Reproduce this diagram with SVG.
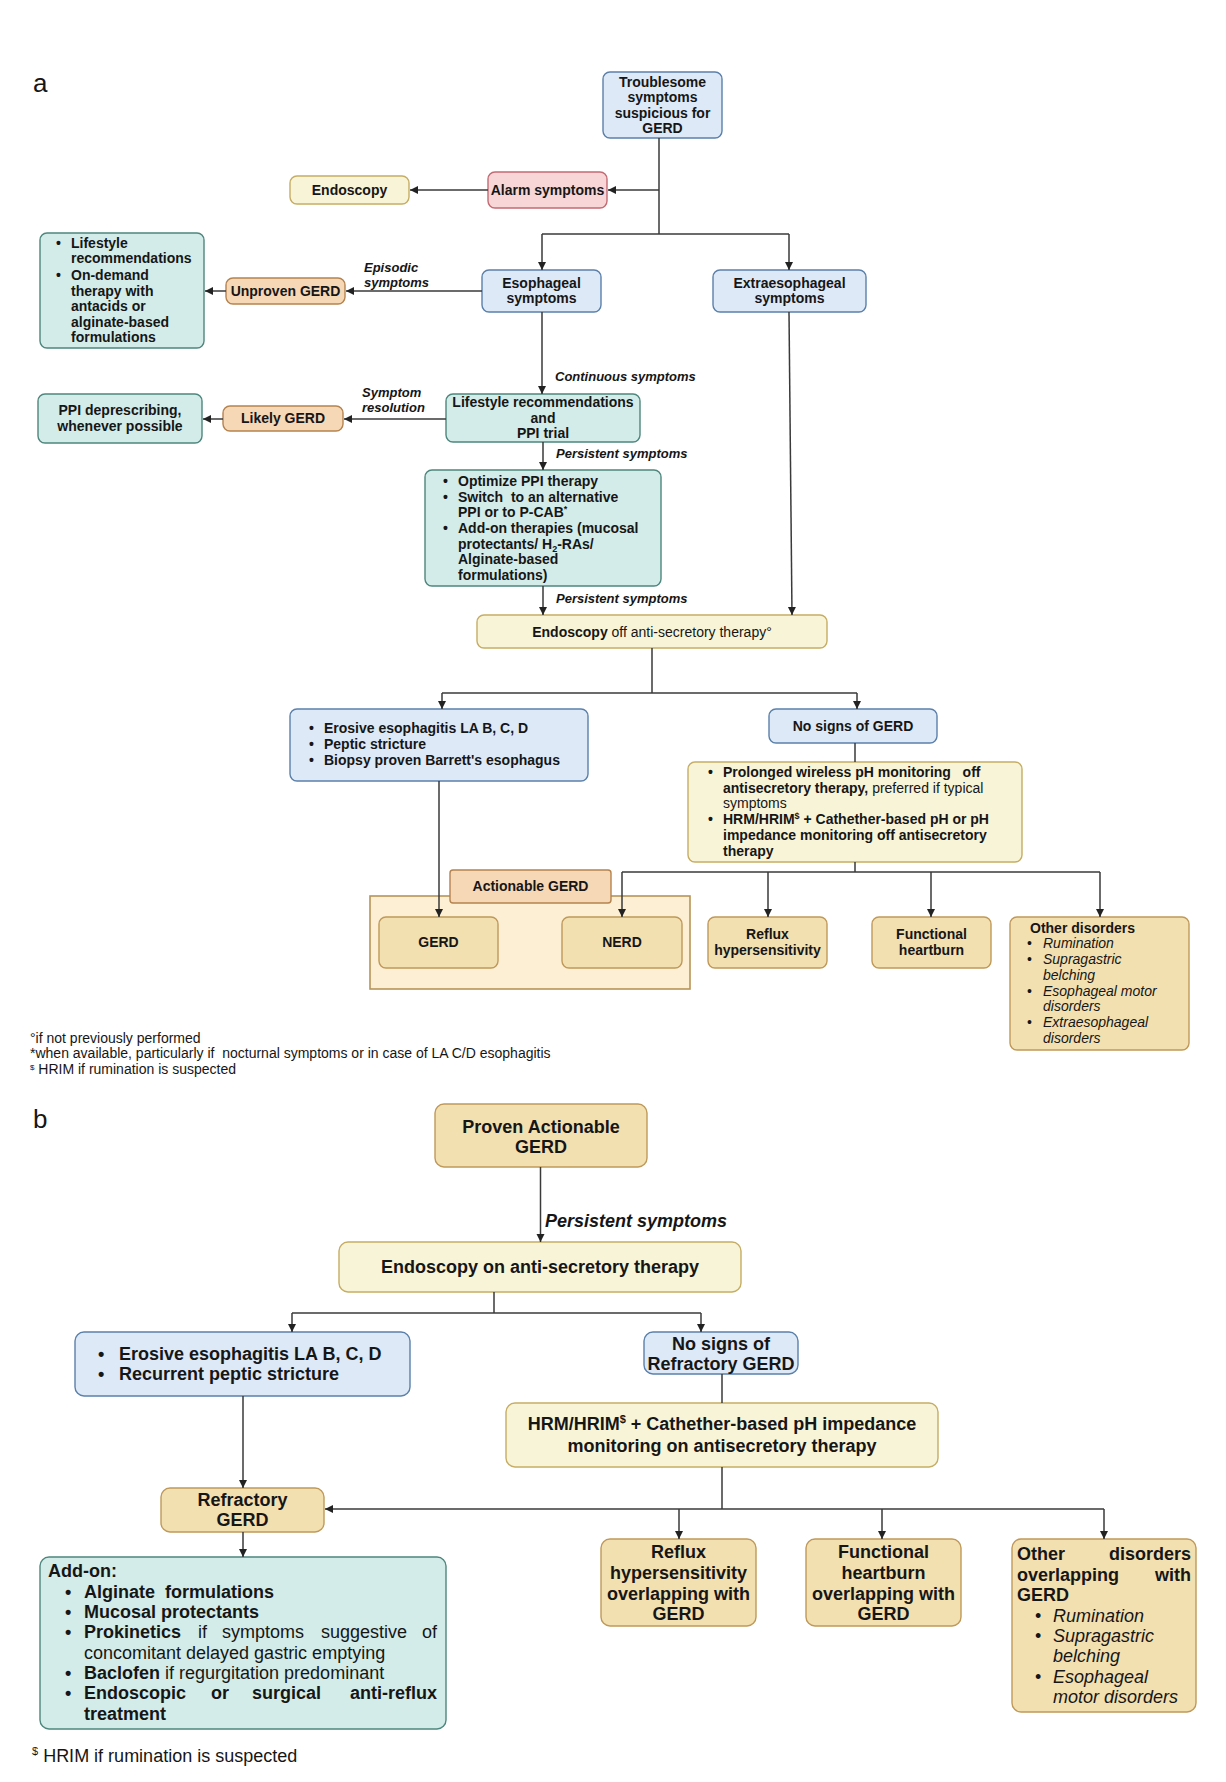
<svg xmlns="http://www.w3.org/2000/svg" width="1226" height="1782" viewBox="0 0 1226 1782">
<defs>
<style>
.bg{fill:#ffffff}
rect{stroke-width:1.4}
.blue{fill:#dde9f7;stroke:#5b80aa}
.teal{fill:#d3ece9;stroke:#4e877d}
.yel{fill:#f8f4d8;stroke:#c6ad63}
.org{fill:#f6d8b7;stroke:#b5834f}
.tan{fill:#f3e0b1;stroke:#bf995a}
.pink{fill:#f8d6d7;stroke:#c46a73}
.cont{fill:#fcefd3;stroke:#b79458;stroke-width:1.6}
text{font-family:"Liberation Sans",Arial,Helvetica,sans-serif;font-size:14px;font-weight:bold;fill:#161616}
.c{text-anchor:middle}
.e{text-anchor:end}
.i{font-style:italic}
.r{font-weight:normal}
.s{font-size:13px}
.L{font-size:18px}
.fn{font-size:14px;font-weight:normal}
.lbl{font-size:26px;font-weight:normal}
.con path{fill:none;stroke:#3a3a3a;stroke-width:1.5}
.con path.a{marker-end:url(#ah)}
</style>
<marker id="ah" markerUnits="userSpaceOnUse" markerWidth="10" markerHeight="10" refX="8" refY="4" orient="auto">
<path d="M0,0 L8,4 L0,8 z" fill="#222"/>
</marker>
</defs>
<rect class="bg" x="0" y="0" width="1226" height="1782"/>

<text class="lbl" x="33" y="92">a</text>
<text class="lbl" x="33" y="1128">b</text>

<g id="troublesome">
<rect class="blue" x="603" y="72" width="119" height="66" rx="7"/>
<text class="c" x="662.5" y="87">Troublesome</text>
<text class="c" x="662.5" y="102">symptoms</text>
<text class="c" x="662.5" y="118">suspicious for</text>
<text class="c" x="662.5" y="133">GERD</text>
</g>
<g id="alarm">
<rect class="pink" x="488" y="172" width="119" height="36" rx="7"/>
<text class="c" x="547.5" y="195">Alarm symptoms</text>
</g>
<g id="endoscopy">
<rect class="yel" x="290" y="176" width="119" height="28" rx="7"/>
<text class="c" x="349.5" y="195">Endoscopy</text>
</g>
<g id="esophageal">
<rect class="blue" x="482" y="270" width="119" height="42" rx="7"/>
<text class="c" x="541.5" y="288">Esophageal</text>
<text class="c" x="541.5" y="303">symptoms</text>
</g>
<g id="extraesophageal">
<rect class="blue" x="713" y="270" width="153" height="42" rx="7"/>
<text class="c" x="789.5" y="288">Extraesophageal</text>
<text class="c" x="789.5" y="303">symptoms</text>
</g>
<g id="lifestyle-ondemand">
<rect class="teal" x="40" y="233" width="164" height="115" rx="7"/>
<text x="56" y="248">•</text>
<text x="71" y="248">Lifestyle</text>
<text x="71" y="263">recommendations</text>
<text x="56" y="280">•</text>
<text x="71" y="280">On-demand</text>
<text x="71" y="296">therapy with</text>
<text x="71" y="311">antacids or</text>
<text x="71" y="327">alginate-based</text>
<text x="71" y="342">formulations</text>
</g>
<g id="unproven">
<rect class="org" x="226" y="278" width="119" height="26" rx="7"/>
<text class="c" x="285.5" y="296">Unproven GERD</text>
</g>
<text class="i s" x="364" y="272">Episodic</text>
<text class="i s" x="364" y="287">symptoms</text>

<text class="i s" x="555" y="381">Continuous symptoms</text>
<g id="lifestyle-ppi">
<rect class="teal" x="446" y="394" width="194" height="48" rx="7"/>
<text class="c" x="543" y="407">Lifestyle recommendations</text>
<text class="c" x="543" y="423">and</text>
<text class="c" x="543" y="438">PPI trial</text>
</g>
<g id="likely">
<rect class="org" x="223" y="406" width="120" height="25" rx="7"/>
<text class="c" x="283" y="423">Likely GERD</text>
</g>
<g id="deprescribing">
<rect class="teal" x="38" y="394" width="164" height="49" rx="7"/>
<text class="c" x="120" y="415">PPI deprescribing,</text>
<text class="c" x="120" y="431">whenever possible</text>
</g>
<text class="i s" x="362" y="397">Symptom</text>
<text class="i s" x="362" y="412">resolution</text>

<text class="i s" x="556" y="458">Persistent symptoms</text>
<g id="optimize">
<rect class="teal" x="425" y="470" width="236" height="116" rx="7"/>
<text x="443" y="486">•</text>
<text x="458" y="486">Optimize PPI therapy</text>
<text x="443" y="502">•</text>
<text x="458" y="502" xml:space="preserve">Switch  to an alternative</text>
<text x="458" y="517">PPI or to P-CAB<tspan font-size="9" dy="-5">*</tspan></text>
<text x="443" y="533">•</text>
<text x="458" y="533">Add-on therapies (mucosal</text>
<text x="458" y="549">protectants/ H<tspan font-size="9" dy="3">2</tspan><tspan dy="-3">-RAs/</tspan></text>
<text x="458" y="564">Alginate-based</text>
<text x="458" y="580">formulations)</text>
</g>
<text class="i s" x="556" y="603">Persistent symptoms</text>
<g id="endoscopy-off">
<rect class="yel" x="477" y="615" width="350" height="33" rx="7"/>
<text class="c" x="652" y="637">Endoscopy<tspan class="r"> off anti-secretory therapy°</tspan></text>
</g>

<g id="erosive-a">
<rect class="blue" x="290" y="709" width="298" height="72" rx="7"/>
<text x="309" y="733">•</text>
<text x="324" y="733">Erosive esophagitis LA B, C, D</text>
<text x="309" y="749">•</text>
<text x="324" y="749">Peptic stricture</text>
<text x="309" y="765">•</text>
<text x="324" y="765">Biopsy proven Barrett's esophagus</text>
</g>
<g id="nosigns-a">
<rect class="blue" x="769" y="709" width="168" height="34" rx="7"/>
<text class="c" x="853" y="731">No signs of GERD</text>
</g>
<g id="prolonged">
<rect class="yel" x="688" y="762" width="334" height="100" rx="7"/>
<text x="708" y="777">•</text>
<text x="723" y="777" xml:space="preserve">Prolonged wireless pH monitoring   off</text>
<text x="723" y="793">antisecretory therapy,<tspan class="r"> preferred if typical</tspan></text>
<text class="r" x="723" y="808">symptoms</text>
<text x="708" y="824">•</text>
<text x="723" y="824">HRM/HRIM<tspan font-size="9" dy="-5">$</tspan><tspan dy="5"> + Cathether-based pH or pH</tspan></text>
<text x="723" y="840">impedance monitoring off antisecretory</text>
<text x="723" y="856">therapy</text>
</g>

<g id="actionable">
<rect class="cont" x="370" y="896" width="320" height="93"/>
<rect class="org" x="450" y="870" width="161" height="33" rx="3"/>
<text class="c" x="530.5" y="891">Actionable GERD</text>
</g>
<g id="gerd">
<rect class="tan" x="379" y="917" width="119" height="51" rx="7"/>
<text class="c" x="438.5" y="947">GERD</text>
</g>
<g id="nerd">
<rect class="tan" x="562" y="917" width="120" height="51" rx="7"/>
<text class="c" x="622" y="947">NERD</text>
</g>
<g id="reflux-a">
<rect class="tan" x="708" y="917" width="119" height="51" rx="7"/>
<text class="c" x="767.5" y="939">Reflux</text>
<text class="c" x="767.5" y="955">hypersensitivity</text>
</g>
<g id="functional-a">
<rect class="tan" x="872" y="917" width="119" height="51" rx="7"/>
<text class="c" x="931.5" y="939">Functional</text>
<text class="c" x="931.5" y="955">heartburn</text>
</g>
<g id="other-a">
<rect class="tan" x="1010" y="917" width="179" height="133" rx="7"/>
<text x="1030" y="933">Other disorders</text>
<text class="r" x="1027" y="948">•</text>
<text class="r i" x="1043" y="948">Rumination</text>
<text class="r" x="1027" y="964">•</text>
<text class="r i" x="1043" y="964">Supragastric</text>
<text class="r i" x="1043" y="980">belching</text>
<text class="r" x="1027" y="996">•</text>
<text class="r i" x="1043" y="996">Esophageal motor</text>
<text class="r i" x="1043" y="1011">disorders</text>
<text class="r" x="1027" y="1027">•</text>
<text class="r i" x="1043" y="1027">Extraesophageal</text>
<text class="r i" x="1043" y="1043">disorders</text>
</g>

<text class="fn" x="30" y="1043">°if not previously performed</text>
<text class="fn" x="30" y="1058" xml:space="preserve">*when available, particularly if  nocturnal symptoms or in case of LA C/D esophagitis</text>
<text class="fn" x="30" y="1074"><tspan font-size="8" dy="-4">$</tspan><tspan dy="4"> HRIM if rumination is suspected</tspan></text>

<g id="proven">
<rect class="tan" x="435" y="1104" width="212" height="63" rx="9"/>
<text class="c L" x="541" y="1133">Proven Actionable</text>
<text class="c L" x="541" y="1153">GERD</text>
</g>
<text class="i L" x="545" y="1227">Persistent symptoms</text>
<g id="endoscopy-on">
<rect class="yel" x="339" y="1242" width="402" height="50" rx="9"/>
<text class="c L" x="540" y="1273">Endoscopy on anti-secretory therapy</text>
</g>
<g id="erosive-b">
<rect class="blue" x="75" y="1332" width="335" height="64" rx="9"/>
<text class="L" x="98" y="1360">•</text>
<text class="L" x="119" y="1360">Erosive esophagitis LA B, C, D</text>
<text class="L" x="98" y="1380">•</text>
<text class="L" x="119" y="1380">Recurrent peptic stricture</text>
</g>
<g id="nosigns-b">
<rect class="blue" x="644" y="1332" width="154" height="42" rx="9"/>
<text class="c L" x="721" y="1350">No signs of</text>
<text class="c L" x="721" y="1370">Refractory GERD</text>
</g>
<g id="hrm-b">
<rect class="yel" x="506" y="1403" width="432" height="64" rx="9"/>
<text class="c L" x="722" y="1430">HRM/HRIM<tspan font-size="11" dy="-7">$</tspan><tspan dy="7"> + Cathether-based pH impedance</tspan></text>
<text class="c L" x="722" y="1452">monitoring on antisecretory therapy</text>
</g>
<g id="refractory">
<rect class="tan" x="161" y="1488" width="163" height="44" rx="9"/>
<text class="c L" x="242.5" y="1506">Refractory</text>
<text class="c L" x="242.5" y="1526">GERD</text>
</g>
<g id="addon">
<rect class="teal" x="40" y="1557" width="406" height="172" rx="9"/>
<text class="L" x="48" y="1577">Add-on:</text>
<text class="L" x="65" y="1598">•</text>
<text class="L" x="84" y="1598" xml:space="preserve">Alginate  formulations</text>
<text class="L" x="65" y="1618">•</text>
<text class="L" x="84" y="1618">Mucosal protectants</text>
<text class="L" x="65" y="1638">•</text>
<text class="L" x="84" y="1638">Prokinetics</text>
<text class="L r" x="198" y="1638">if</text>
<text class="L r" x="222" y="1638">symptoms</text>
<text class="L r" x="321" y="1638">suggestive</text>
<text class="L r e" x="437" y="1638">of</text>
<text class="L r" x="84" y="1659">concomitant delayed gastric emptying</text>
<text class="L" x="65" y="1679">•</text>
<text class="L" x="84" y="1679">Baclofen<tspan class="r"> if regurgitation predominant</tspan></text>
<text class="L" x="65" y="1699">•</text>
<text class="L" x="84" y="1699">Endoscopic</text>
<text class="L" x="211" y="1699">or</text>
<text class="L" x="252" y="1699">surgical</text>
<text class="L e" x="437" y="1699">anti-reflux</text>
<text class="L" x="84" y="1720">treatment</text>
</g>
<g id="reflux-b">
<rect class="tan" x="601" y="1539" width="155" height="87" rx="9"/>
<text class="c L" x="678.5" y="1558">Reflux</text>
<text class="c L" x="678.5" y="1579">hypersensitivity</text>
<text class="c L" x="678.5" y="1600">overlapping with</text>
<text class="c L" x="678.5" y="1620">GERD</text>
</g>
<g id="functional-b">
<rect class="tan" x="806" y="1539" width="155" height="87" rx="9"/>
<text class="c L" x="883.5" y="1558">Functional</text>
<text class="c L" x="883.5" y="1579">heartburn</text>
<text class="c L" x="883.5" y="1600">overlapping with</text>
<text class="c L" x="883.5" y="1620">GERD</text>
</g>
<g id="other-b">
<rect class="tan" x="1012" y="1539" width="184" height="173" rx="9"/>
<text class="L" x="1017" y="1560">Other</text>
<text class="L e" x="1191" y="1560">disorders</text>
<text class="L" x="1017" y="1581">overlapping</text>
<text class="L e" x="1191" y="1581">with</text>
<text class="L" x="1017" y="1601">GERD</text>
<text class="L r" x="1035" y="1622">•</text>
<text class="L r i" x="1053" y="1622">Rumination</text>
<text class="L r" x="1035" y="1642">•</text>
<text class="L r i" x="1053" y="1642">Supragastric</text>
<text class="L r i" x="1053" y="1662">belching</text>
<text class="L r" x="1035" y="1683">•</text>
<text class="L r i" x="1053" y="1683">Esophageal</text>
<text class="L r i" x="1053" y="1703">motor disorders</text>
</g>

<text class="L r" x="32" y="1762"><tspan font-size="11" dy="-7">$</tspan><tspan dy="7"> HRIM if rumination is suspected</tspan></text>

<g class="con" id="connectors">
<path d="M659,138 V234"/>
<path class="a" d="M659,190 H608"/>
<path class="a" d="M488,190 H410"/>
<path d="M542,234 H789"/>
<path class="a" d="M542,234 V270"/>
<path class="a" d="M789,234 V270"/>
<path class="a" d="M482,291 H346"/>
<path class="a" d="M226,291 H205"/>
<path class="a" d="M542,312 V394"/>
<path class="a" d="M446,419 H344"/>
<path class="a" d="M223,419 H203"/>
<path class="a" d="M543,442 V470"/>
<path class="a" d="M543,586 V615"/>
<path class="a" d="M789,312 L792,615"/>
<path d="M652,648 V693"/>
<path d="M442,693 H857"/>
<path class="a" d="M442,693 V709"/>
<path class="a" d="M857,693 V709"/>
<path class="a" d="M439,781 V917"/>
<path d="M855,743 V762"/>
<path d="M855,862 V872"/>
<path d="M622,872 H1100"/>
<path class="a" d="M622,872 V917"/>
<path class="a" d="M768,872 V917"/>
<path class="a" d="M931,872 V917"/>
<path class="a" d="M1100,872 V917"/>

<path class="a" d="M540.5,1167 V1242"/>
<path d="M494,1292 V1313"/>
<path d="M292,1313 H701"/>
<path class="a" d="M292,1313 V1332"/>
<path class="a" d="M701,1313 V1332"/>
<path class="a" d="M243,1396 V1488"/>
<path class="a" d="M243,1532 V1557"/>
<path d="M722,1374 V1403"/>
<path d="M722,1467 V1509"/>
<path class="a" d="M722,1509 H325"/>
<path d="M722,1509 H1104"/>
<path class="a" d="M679,1509 V1539"/>
<path class="a" d="M882,1509 V1539"/>
<path class="a" d="M1104,1509 V1539"/>
</g>
</svg>
